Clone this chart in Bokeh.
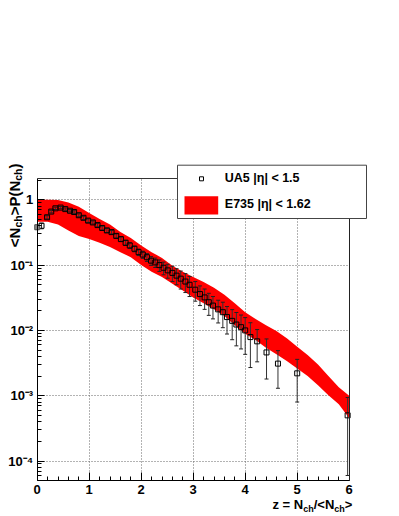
import math
from bokeh.plotting import figure
from bokeh.models import (Range1d, FixedTicker, Label, BoxAnnotation, LinearAxis,
                          LogAxis)
from bokeh.embed import file_html
from bokeh.resources import INLINE

# ---------------- data ----------------
# E735 band (|eta| < 1.62): lower and upper edges vs z
band_z = [0.0, 0.2, 0.4, 0.6, 0.8, 1.0, 1.2, 1.4, 1.6, 1.8, 2.0, 2.2, 2.4, 2.6, 2.8,
          3.0, 3.2, 3.4, 3.6, 3.8, 4.0, 4.2, 4.4, 4.6, 4.8, 5.0, 5.2, 5.4, 5.6, 5.8, 6.0]
band_upper = [1.0, 1.0, 0.99, 0.91, 0.78, 0.63, 0.51, 0.42, 0.32, 0.26, 0.20, 0.158,
              0.129, 0.098, 0.079, 0.066, 0.055, 0.045, 0.035, 0.026, 0.019, 0.015,
              0.012, 0.0098, 0.0076, 0.0056, 0.0042, 0.0030, 0.0020, 0.00135, 0.0010]
band_lower = [0.46, 0.46, 0.42, 0.34, 0.28, 0.25, 0.22, 0.19, 0.158, 0.132, 0.100,
              0.079, 0.066, 0.052, 0.041, 0.032, 0.026, 0.021, 0.0166, 0.012, 0.0089,
              0.0071, 0.0054, 0.0043, 0.0034, 0.0026, 0.0020, 0.00145, 0.00102,
              0.00074, 0.00045]

# UA5 (|eta| < 1.5) points with symmetric errors
ua5_z = [0.0, 0.083, 0.19, 0.27, 0.35, 0.45, 0.54, 0.63, 0.71, 0.80, 0.89, 0.98,
         1.07, 1.16, 1.25, 1.34, 1.43, 1.52, 1.61, 1.70, 1.78, 1.87, 1.95, 2.03,
         2.11, 2.19, 2.27, 2.35, 2.43, 2.51, 2.60, 2.68, 2.76, 2.85, 2.93, 3.04,
         3.13, 3.22, 3.30, 3.38, 3.48, 3.57, 3.65, 3.75, 3.83, 3.92, 4.00, 4.10,
         4.23, 4.41, 4.63, 5.00, 5.97]
ua5_val = [0.38, 0.40, 0.54, 0.66, 0.74, 0.76, 0.72, 0.68, 0.65, 0.58, 0.53, 0.48,
           0.45, 0.41, 0.37, 0.34, 0.32, 0.28, 0.25, 0.22, 0.20, 0.178, 0.158, 0.145,
           0.132, 0.117, 0.110, 0.100, 0.091, 0.083, 0.076, 0.069, 0.062, 0.056,
           0.050, 0.042, 0.036, 0.032, 0.027, 0.024, 0.021, 0.019, 0.016, 0.014,
           0.0123, 0.0112, 0.010, 0.0079, 0.0068, 0.0046, 0.0031, 0.0022, 0.0005]
ua5_err = [0.03, 0.04, 0.03, 0.03, 0.03, 0.03, 0.03, 0.03, 0.03, 0.03, 0.03, 0.03,
           0.025, 0.025, 0.025, 0.025, 0.02, 0.02, 0.02, 0.02, 0.02, 0.018, 0.018,
           0.018, 0.018, 0.018, 0.018, 0.020, 0.020, 0.020, 0.020, 0.019, 0.019,
           0.018, 0.017, 0.014, 0.012, 0.011, 0.010, 0.009, 0.008, 0.008, 0.0072,
           0.0068, 0.0065, 0.006, 0.0057, 0.0052, 0.0035, 0.0028, 0.0018, 0.0014,
           0.00044]

x_bounds = (0.0, 6.0)
y_bounds = (5e-5, 2.12)
x_ticks = [0, 1, 2, 3, 4, 5, 6]
y_ticks = [1e-4, 1e-3, 1e-2, 1e-1, 1.0]
y_tick_labels = ["10\u207b\u2074", "10\u207b\u00b3", "10\u207b\u00b2", "10\u207b\u00b9", "1"]
legend_labels = ["UA5 |\u03b7| < 1.5", "E735 |\u03b7| < 1.62"]

FONT = "Liberation Sans"
W, H = 399, 516

# ---------------- layout: frame covers whole canvas, axes at fixed locations ----
X0_PX, PX_PER_X = 36.7, 52.0          # page x of z=0, pixels per unit z
Y1_PX, PX_PER_DEC = 199.3, 65.3       # page y of value 1, pixels per decade
x_start = -X0_PX / PX_PER_X
x_end = (W - X0_PX) / PX_PER_X
y_top = 10 ** (Y1_PX / PX_PER_DEC)
y_bot = 10 ** (-(H - Y1_PX) / PX_PER_DEC)

p = figure(width=W, height=H, y_axis_type="log",
           x_range=Range1d(x_start, x_end), y_range=Range1d(y_bot, y_top),
           output_backend="svg", toolbar_location=None, min_border=0)
p.background_fill_color = "white"
p.border_fill_color = "white"
p.outline_line_color = None

# band
p.varea(x=band_z, y1=band_lower, y2=band_upper, fill_color="#ff0000", fill_alpha=1.0)

# error bars
lo = [v - e for v, e in zip(ua5_val, ua5_err)]
hi = [v + e for v, e in zip(ua5_val, ua5_err)]
p.segment(x0=ua5_z, y0=lo, x1=ua5_z, y1=hi, line_color="#333333", line_width=1)
p.scatter(x=ua5_z + ua5_z, y=lo + hi, marker="dash", size=4, line_color="#222222",
          line_width=1)

# markers
p.scatter(x=ua5_z[1:], y=ua5_val[1:], marker="square", size=5, fill_alpha=0,
          line_color="black", line_width=1)
p.scatter(x=ua5_z[:1], y=ua5_val[:1], marker="square", size=5, fill_color="#888888",
          line_color="#555555", line_width=1)

# axes
xax, yax = p.xaxis[0], p.yaxis[0]
minor_x = [round(0.2 * i, 2) for i in range(31) if i % 5 != 0]
xax.ticker = FixedTicker(ticks=x_ticks, minor_ticks=minor_x)
minor_y = [10.0 ** d * k for d in range(-5, 1) for k in range(2, 10)]
minor_y = [v for v in minor_y if y_bounds[0] <= v <= y_bounds[1]]
yax.ticker = FixedTicker(ticks=y_ticks, minor_ticks=minor_y)
yax.major_label_overrides = {t: s for t, s in zip(y_ticks, y_tick_labels)}
xax.fixed_location = y_bounds[0]
yax.fixed_location = x_bounds[0]
xax.bounds = x_bounds
yax.bounds = y_bounds

for ax in (xax, yax):
    ax.axis_line_color = "black"
    ax.axis_line_width = 1
    ax.major_tick_out = 0
    ax.minor_tick_out = 0
    ax.major_tick_line_color = "black"
    ax.minor_tick_line_color = "black"
    ax.major_label_text_font = FONT
    ax.major_label_text_font_style = "bold"
    ax.major_label_text_font_size = "13px"
    ax.major_label_text_color = "black"
xax.major_tick_in = 8
xax.minor_tick_in = 4
yax.major_tick_in = 7
yax.minor_tick_in = 4
xax.major_label_standoff = 4
yax.major_label_standoff = 4

# frame top / right edges as tick-less axes
top_ax = LinearAxis(fixed_location=y_bounds[1], bounds=x_bounds,
                    ticker=FixedTicker(ticks=[], minor_ticks=[]),
                    axis_line_color="#333333", major_label_text_font_size="0px",
                    major_tick_in=0, major_tick_out=0, minor_tick_in=0, minor_tick_out=0)
right_ax = LogAxis(fixed_location=x_bounds[1], bounds=y_bounds,
                   ticker=FixedTicker(ticks=[], minor_ticks=[]),
                   axis_line_color="#222222", major_label_text_font_size="0px",
                   major_tick_in=0, major_tick_out=0, minor_tick_in=0, minor_tick_out=0)
p.add_layout(top_ax, "above")
p.add_layout(right_ax, "right")

# grid limited to the data rectangle
xg, yg = p.xgrid[0], p.ygrid[0]
xg.bounds = x_bounds
yg.bounds = y_bounds
try:
    xg.cross_bounds = y_bounds
    yg.cross_bounds = x_bounds
except AttributeError:
    pass
for g in (xg, yg):
    g.grid_line_color = "#666666"
    g.grid_line_dash = "1 2"
    g.grid_line_width = 1

# ---------------- texts (screen units: page x, height-from-bottom y) ----------
BASE_SHIFT = 0.4   # rendered baseline sits ~0.4em past the anchor


def add_label(text, px, py, fs, angle=0.0):
    if angle:
        px -= BASE_SHIFT * fs
    else:
        py -= BASE_SHIFT * fs
    p.add_layout(Label(x=px, y=H - py, x_units="screen", y_units="screen", text=text,
                       angle=angle, text_align="left", text_baseline="alphabetic",
                       text_font=FONT, text_font_style="bold",
                       text_font_size=f"{fs}px", text_color="black"))


adv = {"<N": 1306, "ch": 1167, ">P(N": 2306, ")": 333,
       "z = N": 2362, "/<N": 1584, ">": 584}

# y title: <N_ch>P(N_ch), rotated, reading upward
ym, ys = 15.0, 10.5
pos = 246.7
for txt, sub in [("<N", 0), ("ch", 1), (">P(N", 0), ("ch", 1), (")", 0)]:
    fs = ys if sub else ym
    add_label(txt, 22.0 if sub else 19.5, pos, fs, angle=math.pi / 2)
    pos -= adv[txt] * fs / 1000.0

# x title: z = N_ch/<N_ch>
xm, xs = 13.0, 9.0
pos = 272.0
for txt, sub in [("z = N", 0), ("ch", 1), ("/<N", 0), ("ch", 1), (">", 0)]:
    fs = xs if sub else xm
    add_label(txt, pos, 512.0 if sub else 509.0, fs)
    pos += adv[txt] * fs / 1000.0


# ---------------- legend (drawn manually) ----------------
def add_box(l, r, t, b, fill, line):
    p.add_layout(BoxAnnotation(left=l, right=r, top=H - t, bottom=H - b,
                               left_units="screen", right_units="screen",
                               top_units="screen", bottom_units="screen",
                               fill_color=fill, fill_alpha=1.0,
                               line_color=line, line_alpha=1.0, line_width=1))


add_box(177, 366, 164.7, 218, "white", "#444444")
add_box(199, 203, 176.3, 180.3, "white", "black")
add_box(184, 217.7, 195.7, 214, "#ff0000", None)
add_label(legend_labels[0], 224.3, 182.3, 12.5)
add_label(legend_labels[1], 224.3, 208.3, 12.5)

open("out.html", "w").write(file_html(p, INLINE))
